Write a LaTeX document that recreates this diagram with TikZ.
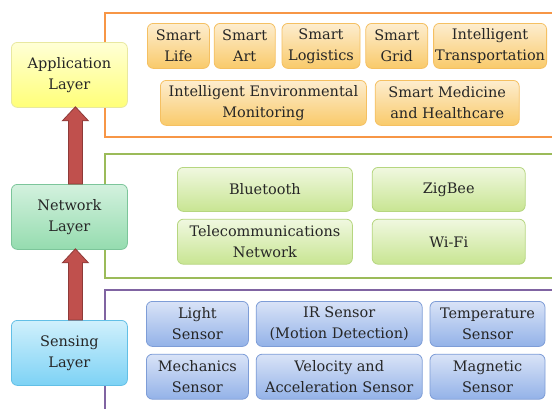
\documentclass[tikz,border=0pt]{standalone}
\usepackage{fontspec}
\setmainfont{DejaVu Serif}
\usetikzlibrary{positioning, calc}

\definecolor{frameorange}{HTML}{F79646}
\definecolor{framegreen}{HTML}{9BBB59}
\definecolor{framepurple}{HTML}{8064A2}
\definecolor{arrowred}{HTML}{C0504D}
\definecolor{arrowedge}{HTML}{8E3A38}
\definecolor{txt}{HTML}{262626}
\definecolor{apptop}{HTML}{FDEDCF}
\definecolor{appbot}{HTML}{F9CA6A}
\definecolor{appline}{HTML}{F5C062}
\definecolor{nettop}{HTML}{F0F8E0}
\definecolor{netbot}{HTML}{C8E592}
\definecolor{netline}{HTML}{B6D680}
\definecolor{senstop}{HTML}{D9E3F7}
\definecolor{sensbot}{HTML}{93B2E8}
\definecolor{sensline}{HTML}{7E9DD7}

\begin{document}
\begin{tikzpicture}[x=1pt, y=-1pt,
	box/.style={rectangle, rounded corners=6pt, align=center, inner sep=0pt, line width=0.8pt,
		text=txt, font=\fontsize{14.5}{21}\selectfont},
	layer/.style={box, minimum width=116pt, minimum height=65pt, anchor=north west},
	appitem/.style={box, draw=appline, top color=apptop, bottom color=appbot, minimum height=45pt},
	netitem/.style={box, draw=netline, top color=nettop, bottom color=netbot, minimum height=45pt},
	sensitem/.style={box, draw=sensline, top color=senstop, bottom color=sensbot, minimum height=45pt},
	frame/.style={line width=2pt},
	bigarrow/.style={fill=arrowred, draw=arrowedge, line width=0.8pt, line join=miter}]
	\clip (0,0) rectangle (552,408);
	\fill[white] (0,0) rectangle (552,408);

	\draw[frame, frameorange] (105,13) rectangle (600,137);
	\draw[frame, framegreen] (105,154) rectangle (600,278);
	\draw[frame, framepurple] (105,290) rectangle (600,450);

	\node[layer, draw={rgb,255:red,232;green,232;blue,160}, top color={rgb,255:red,255;green,255;blue,214}, bottom color={rgb,255:red,255;green,255;blue,120}] (app) at (11,42) {Application\\Layer};
	\node[layer, draw={rgb,255:red,124;green,197;blue,154}, top color={rgb,255:red,211;green,241;blue,222}, bottom color={rgb,255:red,149;green,220;blue,175}] (net) at (11,184) {Network\\Layer};
	\node[layer, draw={rgb,255:red,98;green,191;blue,230}, top color={rgb,255:red,208;green,240;blue,252}, bottom color={rgb,255:red,125;green,210;blue,245}] (sens) at (11,320) {Sensing\\Layer};

	\node[appitem, minimum width=62pt, anchor=north west] (life) at (147,23) {Smart\\Life};
	\node[appitem, minimum width=61pt] (art) [right=4pt of life] {Smart\\Art};
	\node[appitem, minimum width=78pt] (logistics) [right=6pt of art] {Smart\\Logistics};
	\node[appitem, minimum width=62pt] (grid) [right=5pt of logistics] {Smart\\Grid};
	\node[appitem, minimum width=113pt] (transport) [right=5pt of grid] {Intelligent\\Transportation};
	\node[appitem, minimum width=206pt, anchor=north west] (envmon) at (160,80) {Intelligent Environmental\\Monitoring};
	\node[appitem, minimum width=144pt] (medicine) [right=8pt of envmon] {Smart Medicine\\and Healthcare};

	\node[netitem, minimum width=175pt, minimum height=44pt, anchor=north west] (bluetooth) at (177,167) {Bluetooth};
	\node[netitem, minimum width=153pt, minimum height=44pt] (zigbee) [right=19pt of bluetooth] {ZigBee};
	\node[netitem, minimum width=175pt] (telecom) [below=7pt of bluetooth] {Telecommunications\\Network};
	\node[netitem, minimum width=153pt] (wifi) [right=19pt of telecom] {Wi-Fi};

	\node[sensitem, minimum width=102pt, anchor=north west] (light) at (146,301) {Light\\Sensor};
	\node[sensitem, minimum width=166pt] (ir) [right=7pt of light] {IR Sensor\\(Motion Detection)};
	\node[sensitem, minimum width=115pt] (temp) [right=7pt of ir] {Temperature\\Sensor};
	\node[sensitem, minimum width=102pt] (mech) [below=7pt of light] {Mechanics\\Sensor};
	\node[sensitem, minimum width=166pt] (velocity) [right=7pt of mech] {Velocity and\\Acceleration Sensor};
	\node[sensitem, minimum width=115pt] (magnetic) [right=7pt of velocity] {Magnetic\\Sensor};

	\foreach \lo/\hi in {net/app, sens/net}
		\filldraw[bigarrow] ($(\lo.north)+(-1,0)$) -- ($(\hi.south)+(-1,13)$) -- ($(\hi.south)+(-7,13)$)
			-- ($(\hi.south)+(6,-1)$) -- ($(\hi.south)+(19,13)$) -- ($(\hi.south)+(13,13)$)
			-- ($(\lo.north)+(13,0)$) -- cycle;
\end{tikzpicture}
\end{document}
